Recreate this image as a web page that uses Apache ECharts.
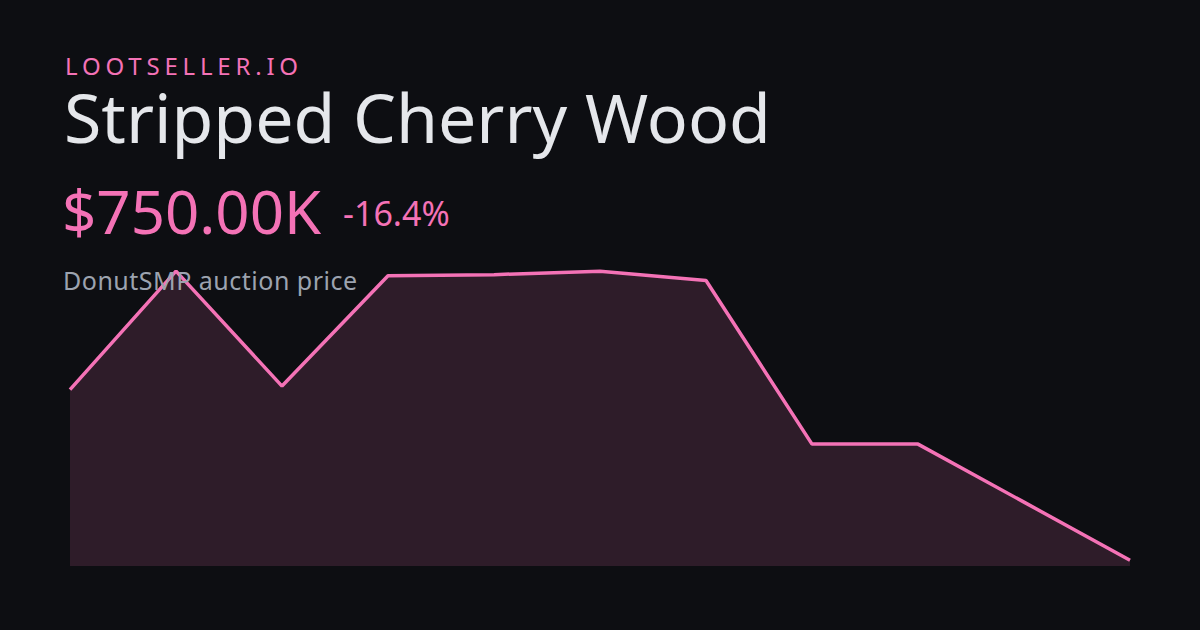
<!DOCTYPE html>
<html>
<head>
<meta charset="utf-8">
<script src="https://cdn.jsdelivr.net/npm/echarts@6/dist/echarts.min.js"></script>
<style>
  html, body { margin: 0; padding: 0; background: #0d0e12; }
  #chart { width: 1200px; height: 630px; }
</style>
</head>
<body>
<div id="chart"></div>
<script>
const categories = ['P1','P2','P3','P4','P5','P6','P7','P8','P9','P10','P11'];
const prices = [897000, 999000, 900000, 995000, 996000, 999000, 991000, 850000, 850000, 800000, 750000];
const brandText = 'LOOTSELLER.IO';
const titleText = 'Stripped Cherry Wood';
const priceText = '$750.00K';
const changeText = '-16.4%';
const subtitleText = 'DonutSMP auction price';

const FONT = '"Noto Sans", "Open Sans", sans-serif';
const chart = echarts.init(document.getElementById('chart'), null, { renderer: 'svg', width: 1200, height: 630 });

chart.setOption({
  backgroundColor: '#0d0e12',
  animation: false,
  grid: { left: 70, right: 70, top: 270, bottom: 64 },
  xAxis: {
    type: 'category', data: categories, boundaryGap: false,
    show: false
  },
  yAxis: {
    type: 'value', min: 745000, max: 1000000, show: false,
    splitLine: { show: false }
  },
  series: [{
    type: 'line', data: prices, symbol: 'none',
    lineStyle: { color: '#f472b6', width: 3.5 },
    areaStyle: { color: 'rgba(244,114,182,0.21)' },
    z: 1
  }],
  graphic: [
    { type: 'text', left: 65, top: 53, z: 10,
      style: { text: brandText, fill: '#f472b6', font: '400 24px ' + FONT } },
    { type: 'text', left: 64, top: 82, z: 10,
      style: { text: titleText, fill: '#e5e7eb', font: '400 68px ' + FONT } },
    { type: 'text', left: 62, top: 181, z: 10,
      style: { text: priceText, fill: '#f472b6', font: '400 60px ' + FONT } },
    { type: 'text', left: 343, top: 196, z: 10,
      style: { text: changeText, fill: '#f472b6', font: '400 34px ' + FONT } },
    { type: 'text', left: 63, top: 267, z: 10,
      style: { text: subtitleText, fill: '#9ca3af', font: '400 25px ' + FONT } }
  ]
});

function spaceText() {
  document.querySelectorAll('#chart text').forEach(function (t) {
    if (t.textContent === brandText) t.style.letterSpacing = '4.8px';
    if (t.textContent === subtitleText) t.style.letterSpacing = '0.5px';
  });
}
spaceText();
chart.on('finished', spaceText);
</script>
</body>
</html>
